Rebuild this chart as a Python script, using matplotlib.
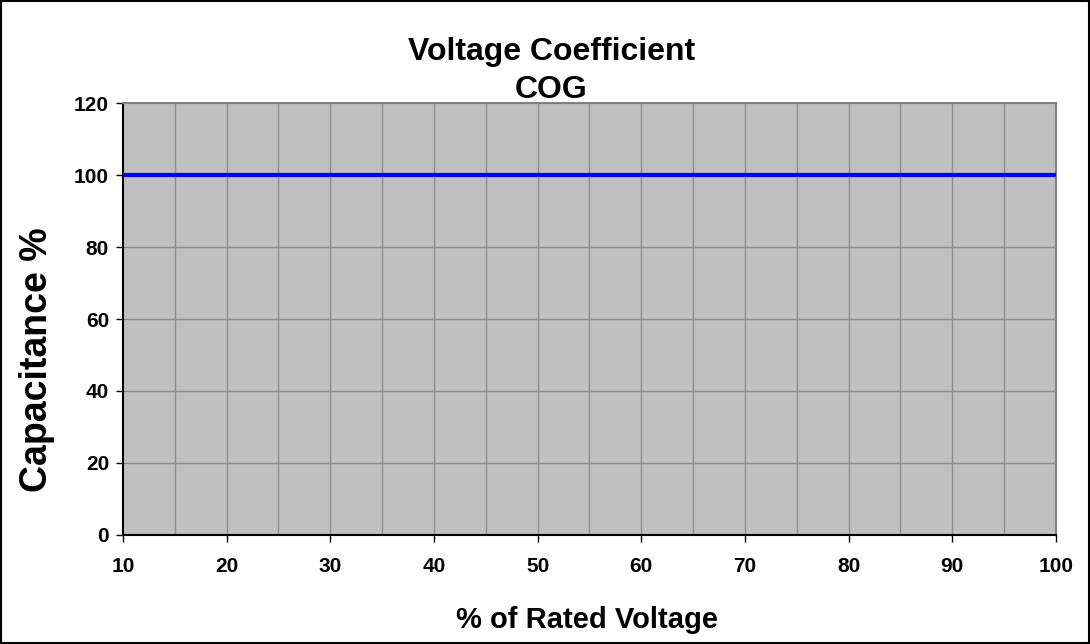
import matplotlib
matplotlib.use("Agg")
import matplotlib.pyplot as plt
from matplotlib.patches import Rectangle

# data
rated_voltage = [10, 20, 30, 40, 50, 60, 70, 80, 90, 100]
capacitance = [100, 100, 100, 100, 100, 100, 100, 100, 100, 100]
x_ticks = [10, 20, 30, 40, 50, 60, 70, 80, 90, 100]
x_grid = [15, 20, 25, 30, 35, 40, 45, 50, 55, 60, 65, 70, 75, 80, 85, 90, 95]
y_ticks = [0, 20, 40, 60, 80, 100, 120]

plt.rcParams['font.family'] = ['Liberation Sans', 'DejaVu Sans']
plt.rcParams['font.weight'] = 'bold'

fig = plt.figure(figsize=(10.9, 6.44), dpi=100)
ax = fig.add_axes([0.1128, 0.1693, 0.8560, 0.6707])
ax.set_facecolor('#C0C0C0')

for xv in x_grid:
    ax.axvline(xv, color='#8C8C8C', linewidth=1, zorder=1)
for yv in y_ticks[1:-1]:
    ax.axhline(yv, color='#8C8C8C', linewidth=1, zorder=1)

ax.plot(rated_voltage, capacitance, color='#0000FF', linewidth=3, zorder=3,
        solid_capstyle='butt', clip_on=False)

ax.set_xlim(10, 100)
ax.set_ylim(0, 120)
ax.set_xticks(x_ticks)
ax.set_yticks(y_ticks)
ax.tick_params(axis='both', labelsize=15, length=5, width=1, color='black')
ax.tick_params(axis='x', pad=11)
ax.tick_params(axis='y', pad=5)

ax.spines['left'].set_color('black')
ax.spines['bottom'].set_color('black')
ax.spines['left'].set_linewidth(1.5)
ax.spines['bottom'].set_linewidth(1.5)
ax.spines['top'].set_color('#808080')
ax.spines['right'].set_color('#808080')
ax.spines['top'].set_linewidth(1.5)
ax.spines['right'].set_linewidth(1.5)

# axis labels and titles placed like the original
fig.text(0.5385, 0.038, "% of Rated Voltage", ha='center', va='center',
         fontsize=21, fontweight='bold')
fig.text(0.034, 0.441, "Capacitance %", ha='center', va='center',
         rotation=90, fontsize=27, fontweight='bold')
fig.text(0.506, 0.920, "Voltage Coefficient", ha='center', va='center',
         fontsize=23, fontweight='bold')
fig.text(0.506, 0.860, "COG", ha='center', va='center',
         fontsize=23, fontweight='bold')

# outer frame
fig.patches.append(Rectangle((0.001, 0.001), 0.998, 0.998, transform=fig.transFigure,
                             fill=False, edgecolor='black', linewidth=1.5))

fig.savefig("out.png", dpi=100)
